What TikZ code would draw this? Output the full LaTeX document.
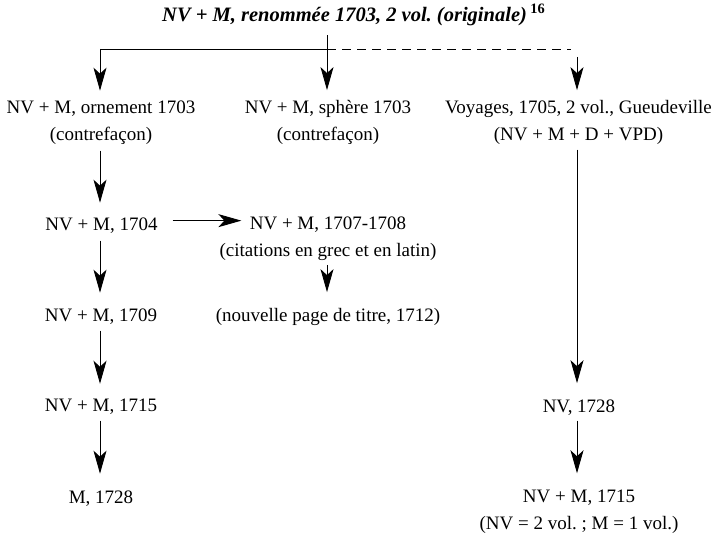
\documentclass[tikz,border=0pt]{standalone}
\usepackage{fontspec}
\setmainfont{Liberation Serif}
\usetikzlibrary{arrows.meta,calc}
\frenchspacing
\begin{document}
\begin{tikzpicture}[x=1pt,y=-1pt,
  lbl/.style={align=center,font=\fontsize{19}{27}\selectfont,inner sep=0pt,anchor=base},
  arr/.style={-{Stealth[length=23pt,width=13pt,inset=6pt]},line width=0.9pt},
  ln/.style={line width=0.9pt}]
\useasboundingbox (0,0) rectangle (714,535);
\node[lbl,anchor=base west,font=\fontsize{20.5}{27}\selectfont\bfseries\itshape] (T) at (162,21.5) {NV + M, renommée 1703, 2 vol. (originale)\,\textsuperscript{\upshape 16}};
\node[lbl] (A) at (101,140.5) {NV + M, ornement 1703\\(contrefaçon)};
\node[lbl] (B) at (328,140.5) {NV + M, sphère 1703\\(contrefaçon)};
\node[lbl] (C) at (578.5,140.5) {Voyages, 1705, 2 vol., Gueudeville\\(NV + M + D + VPD)};
\node[lbl] (D) at (101.5,230.5) {NV + M, 1704};
\node[lbl] (E) at (328,256.5) {NV + M, 1707-1708\\(citations en grec et en latin)};
\node[lbl] (F) at (328,321.5) {(nouvelle page de titre, 1712)};
\node[lbl] (G) at (101,321.5) {NV + M, 1709};
\node[lbl] (H) at (101,411.5) {NV + M, 1715};
\node[lbl] (I) at (101,503.5) {M, 1728};
\node[lbl] (J) at (579,412.5) {NV, 1728};
\node[lbl] (K) at (579,529.5) {NV + M, 1715\\(NV = 2 vol. ; M = 1 vol.)};
\coordinate (tl) at (100,49);
\coordinate (tm) at (327,49);
\coordinate (tr) at (571,49);
\coordinate (rv) at (577,57);
\draw[ln] (tl) -- (tm);
\draw[ln,dash pattern=on 9pt off 6pt] (tm) -- (tr);
\draw[arr] ($(T.south -| tm)+(0,9)$) -- ($(B.north -| tm)+(0,-10)$);
\draw[arr] (tl) -- ($(A.north -| tl)+(0,-10)$);
\draw[arr] (rv) -- ($(C.north -| rv)+(0,-10)$);
\draw[arr] ($(A.south -| tl)+(0,6)$) -- ($(D.north -| tl)+(0,-15)$);
\draw[arr] ($(D.south -| tl)+(0,7)$) -- ($(G.north -| tl)+(0,-16)$);
\draw[arr] ($(G.south -| tl)+(0,6)$) -- ($(H.north -| tl)+(0,-15)$);
\draw[arr] ($(H.south -| tl)+(0,6)$) -- ($(I.north -| tl)+(0,-17)$);
\draw[arr] ($(D.east)+(15,-5)$) -- ($(E.west |- D.east)+(22,-5)$);
\draw[arr] ($(E.south -| tm)+(0,4)$) -- ($(F.north -| tm)+(0,-16)$);
\draw[arr] ($(C.south -| rv)+(0,5)$) -- ($(J.north -| rv)+(0,-16.5)$);
\draw[arr] ($(J.south -| rv)+(0,5)$) -- ($(K.north -| rv)+(0,-16.5)$);
\end{tikzpicture}
\end{document}
